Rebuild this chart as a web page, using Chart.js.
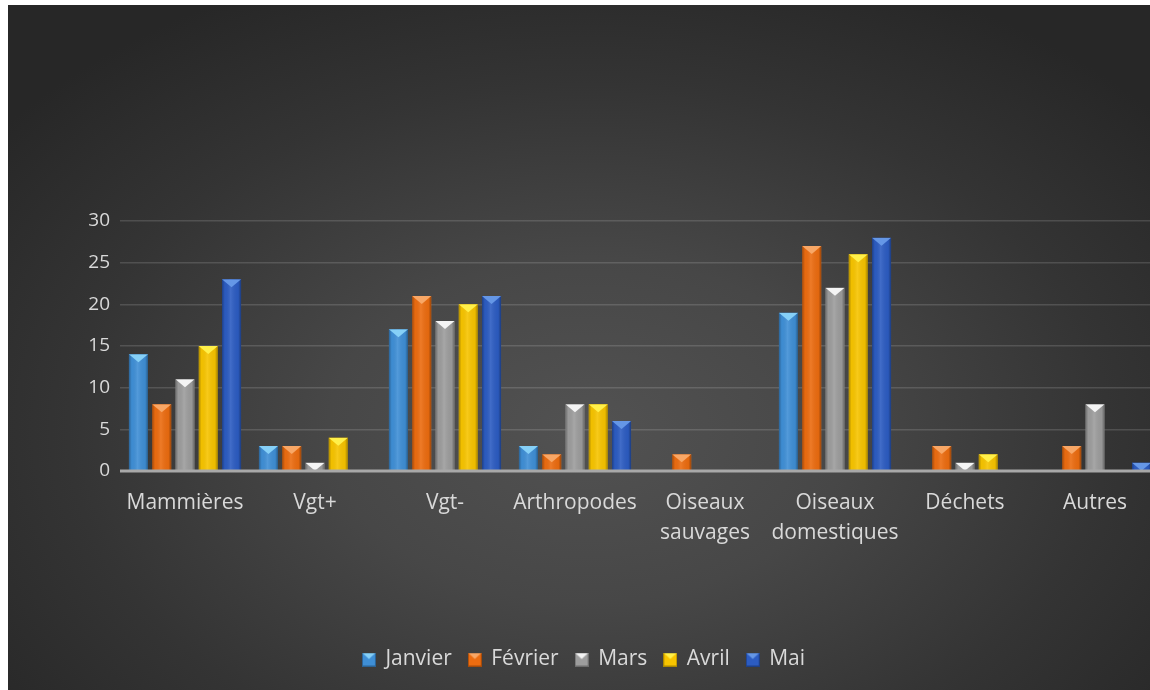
<!DOCTYPE html>
<html lang="fr">
<head>
<meta charset="utf-8">
<title>Répartition mensuelle</title>
<script src="https://cdn.jsdelivr.net/npm/chart.js@4.4.1/dist/chart.umd.min.js"></script>
<style>
  html, body { margin: 0; padding: 0; background: #ffffff; overflow: hidden; }
  #wrap {
    position: absolute; left: 8px; top: 5px; width: 1160px; height: 685px;
    background: radial-gradient(ellipse 64% 72% at 50% 62%, #525252 0%, #474747 35%, #343434 70%, #272727 100%);
  }
</style>
</head>
<body>
<div id="wrap"><canvas id="graph" width="1160" height="685"></canvas></div>
<script>
// categories on the x axis
var categories = ['Mammières', 'Vgt+', 'Vgt-', 'Arthropodes', ['Oiseaux', 'sauvages'], ['Oiseaux', 'domestiques'], 'Déchets', 'Autres'];
var months = ['Janvier', 'Février', 'Mars', 'Avril', 'Mai'];

// counts per month
var janvier = [14, 3, 17, 3, 0, 19, 0, 0];
var fevrier = [8, 3, 21, 2, 2, 27, 3, 3];
var mars    = [11, 1, 18, 8, 0, 22, 1, 8];
var avril   = [15, 4, 20, 8, 0, 26, 2, 0];
var mai     = [23, 0, 21, 6, 0, 28, 0, 1];

// y axis range
var yMin = 0;
var yMax = 30;
var yStep = 5;

var series = [janvier, fevrier, mars, avril, mai];
var barColors = ['#3f8fd6', '#ec6c10', '#9d9d9d', '#f7c400', '#2c5cc2'];
var topColors = ['#86d0f7', '#f8a766', '#f4f4f4', '#fff04a', '#6597e6'];

// small bevelled squares for the legend
function legendIcon(i) {
    var c = document.createElement('canvas');
    c.width = 14; c.height = 14;
    var g = c.getContext('2d');
    g.fillStyle = barColors[i];
    g.fillRect(0, 0, 14, 14);
    g.fillStyle = topColors[i];
    g.beginPath(); g.moveTo(0, 0); g.lineTo(14, 0); g.lineTo(7, 6.5); g.closePath(); g.fill();
    g.strokeStyle = 'rgba(0,0,0,0.3)';
    g.strokeRect(0.5, 0.5, 13, 13);
    return c;
}
var legendIcons = months.map(function(m, i) { return legendIcon(i); });

// bevel look on top of each bar + the zero line
var bevelPlugin = {
    id: 'bevel',
    afterDatasetsDraw: function(chart) {
        var ctx = chart.ctx;
        chart.data.datasets.forEach(function(ds, i) {
            var meta = chart.getDatasetMeta(i);
            meta.data.forEach(function(bar) {
                var p = bar.getProps(['x', 'y', 'base', 'width'], true);
                var h = p.base - p.y;
                if (h < 0.5) return;
                var left = p.x - p.width / 2, right = p.x + p.width / 2;
                ctx.save();
                ctx.beginPath();
                ctx.rect(left, p.y, p.width, h);
                ctx.clip();
                var g = ctx.createLinearGradient(left, 0, right, 0);
                g.addColorStop(0, 'rgba(0,0,0,0.30)');
                g.addColorStop(0.15, 'rgba(0,0,0,0.02)');
                g.addColorStop(0.45, 'rgba(255,255,255,0.10)');
                g.addColorStop(0.85, 'rgba(0,0,0,0.04)');
                g.addColorStop(1, 'rgba(0,0,0,0.35)');
                ctx.fillStyle = g;
                ctx.fillRect(left, p.y, p.width, h);
                var d = p.width * 0.42;
                ctx.beginPath();
                ctx.moveTo(left, p.y);
                ctx.lineTo(right, p.y);
                ctx.lineTo(p.x, p.y + d);
                ctx.closePath();
                ctx.fillStyle = topColors[i];
                ctx.fill();
                ctx.restore();
            });
        });
        var y0 = chart.scales.y.getPixelForValue(0);
        ctx.save();
        ctx.strokeStyle = '#a8a8a8';
        ctx.lineWidth = 3;
        ctx.beginPath();
        ctx.moveTo(chart.chartArea.left, y0);
        ctx.lineTo(chart.chartArea.right, y0);
        ctx.stroke();
        ctx.restore();
    }
};

Chart.defaults.font.family = "'Open Sans', sans-serif";
Chart.defaults.color = '#d9d9d9';

var ctx = document.getElementById('graph').getContext('2d');
var chart = new Chart(ctx, {
    type: 'bar',
    data: {
        labels: categories,
        datasets: months.map(function(m, i) {
            return {
                label: m,
                data: series[i],
                backgroundColor: barColors[i],
                borderWidth: 0,
                categoryPercentage: 0.895,
                barPercentage: 0.82
            };
        })
    },
    options: {
        responsive: false,
        animation: false,
        layout: { padding: { top: 216, right: 8, bottom: 10, left: 0 } },
        scales: {
            x: {
                grid: { display: false },
                border: { display: false },
                ticks: {
                    padding: 9,
                    autoSkip: false,
                    maxRotation: 0,
                    font: { size: 21, lineHeight: '30px' }
                },
                afterFit: function(scale) { scale.height = 161; }
            },
            y: {
                min: yMin,
                max: yMax,
                grid: { color: 'rgba(255,255,255,0.14)', lineWidth: 1.5, drawTicks: false },
                border: { display: false },
                ticks: { stepSize: yStep, padding: 10, font: { size: 19 } },
                afterFit: function(scale) { scale.width = 112; }
            }
        },
        plugins: {
            legend: {
                position: 'bottom',
                labels: {
                    usePointStyle: true,
                    boxWidth: 12,
                    boxHeight: 14,
                    padding: 17,
                    font: { size: 21 },
                    generateLabels: function(chart) {
                        var items = Chart.defaults.plugins.legend.labels.generateLabels(chart);
                        items.forEach(function(it, i) { it.pointStyle = legendIcons[i]; });
                        return items;
                    }
                }
            },
            tooltip: { enabled: false }
        }
    },
    plugins: [bevelPlugin]
});
</script>
</body>
</html>
